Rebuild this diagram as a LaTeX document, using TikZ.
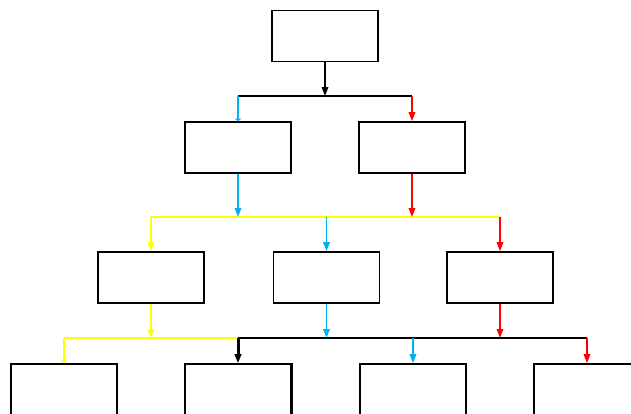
\documentclass[tikz,border=0pt]{standalone}
\usetikzlibrary{arrows.meta}
\definecolor{cblue}{RGB}{0,176,240}
\definecolor{cyel}{RGB}{255,255,0}
\definecolor{cred}{RGB}{255,0,0}
\begin{document}
\begin{tikzpicture}[x=1pt,y=-1pt,line width=1.6pt,
  box/.style={draw=black,line width=1.6pt,minimum width=106pt,minimum height=51pt,inner sep=0pt},
  arr/.style={-{Triangle[width=6.5pt,length=9pt]}},
  stub/.style={-{Triangle[width=6.5pt,length=2.5pt]}}]
\useasboundingbox (0,0) rectangle (631,413);
\clip (0,0) rectangle (631,413);
% nodes
\node[box] (top) at (325,36) {};
\node[box] (b1) at (238,147.5) {};
\node[box] (b2) at (412,147.5) {};
\node[box] (c1) at (151,277.5) {};
\node[box] (c2) at (326.5,277.5) {};
\node[box] (c3) at (500,277.5) {};
\node[box] (d1) at (64,389.5) {};
\node[box] (d2) at (238,389.5) {};
\node[box] (d3) at (413,389.5) {};
\node[box] (d4) at (587,389.5) {};
\draw[line width=3pt] (d2.north east) -- (d2.south east);
% junction levels
\coordinate (j1) at (0,96);
\coordinate (j2) at (0,217);
\coordinate (j3) at (0,338);
% level 1
\draw (b1.north |- j1) -- (b2.north |- j1);
\draw[arr] (top.south) -- (top.south |- j1);
\draw[cblue,stub] (b1.north |- j1) -- (b1.north);
\draw[cred,arr] (b2.north |- j1) -- (b2.north);
% level 2
\draw[cyel] (c1.north |- j2) -- (c3.north |- j2);
\draw[cblue,arr] (b1.south) -- (b1.south |- j2);
\draw[cred,arr] (b2.south) -- (b2.south |- j2);
\draw[cyel,arr] (c1.north |- j2) -- (c1.north);
\draw[cblue,arr] (c2.north |- j2) -- (c2.north);
\draw[cred,arr] (c3.north |- j2) -- (c3.north);
% level 3
\draw[cyel] (d1.north |- j3) -- (d2.north |- j3);
\draw (d2.north |- j3) -- (d4.north |- j3);
\draw[cyel,arr] (c1.south) -- (c1.south |- j3);
\draw[cblue,arr] (c2.south) -- (c2.south |- j3);
\draw[cred,arr] (c3.south) -- (c3.south |- j3);
\draw[cyel,stub] (d1.north |- j3) -- (d1.north);
\draw[line width=3pt,arr] (d2.north |- j3) -- (d2.north);
\draw[cblue,arr] (d3.north |- j3) -- (d3.north);
\draw[cred,arr] (d4.north |- j3) -- (d4.north);
\end{tikzpicture}
\end{document}
